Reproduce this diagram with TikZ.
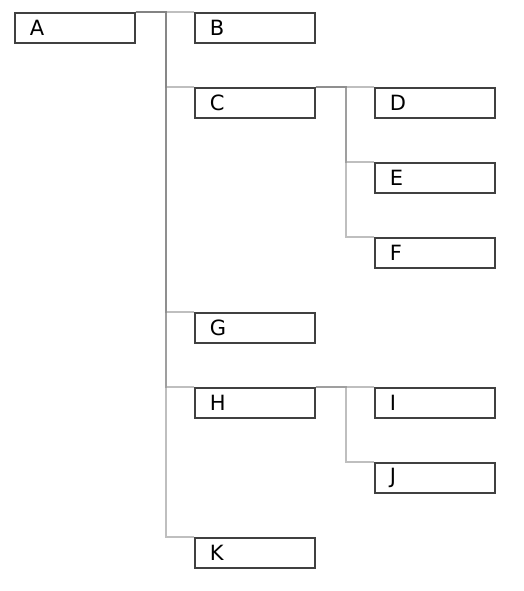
\documentclass[tikz,border=0pt]{standalone}
\usepackage{fontspec}
\setmainfont{DejaVu Sans}
\begin{document}
\begin{tikzpicture}[x=1pt, y=-1pt,
        every node/.style={rectangle, draw=black!75, line width=1.6pt, anchor=north west,
            minimum width=120pt, minimum height=30pt, inner xsep=15pt, text width=90pt,
            font=\fontsize{21}{21}\selectfont, align=left},
        link/.style={draw=gray, draw opacity=0.5, line width=2pt}]
            \useasboundingbox (0,0) rectangle (523,591);
            \node (A) at (14,12) {A};
            \node (B) at (194,12) {B};
            \node (C) at (194,87) {C};
            \node (D) at (374,87) {D};
            \node (E) at (374,162) {E};
            \node (F) at (374,237) {F};
            \node (G) at (194,312) {G};
            \node (H) at (194,387) {H};
            \node (I) at (374,387) {I};
            \node (J) at (374,462) {J};
            \node (K) at (194,537) {K};

            \draw[link] (A.north east) -- ++(30,0) |- (B.north west);
            \draw[link] (A.north east) -- ++(30,0) |- (C.north west);
            \draw[link] (A.north east) -- ++(30,0) |- (G.north west);
            \draw[link] (A.north east) -- ++(30,0) |- (H.north west);
            \draw[link] (A.north east) -- ++(30,0) |- (K.north west);
            \draw[link] (C.north east) -- ++(30,0) |- (D.north west);
            \draw[link] (C.north east) -- ++(30,0) |- (E.north west);
            \draw[link] (C.north east) -- ++(30,0) |- (F.north west);
            \draw[link] (H.north east) -- ++(30,0) |- (I.north west);
            \draw[link] (H.north east) -- ++(30,0) |- (J.north west);
        \end{tikzpicture}
\end{document}
